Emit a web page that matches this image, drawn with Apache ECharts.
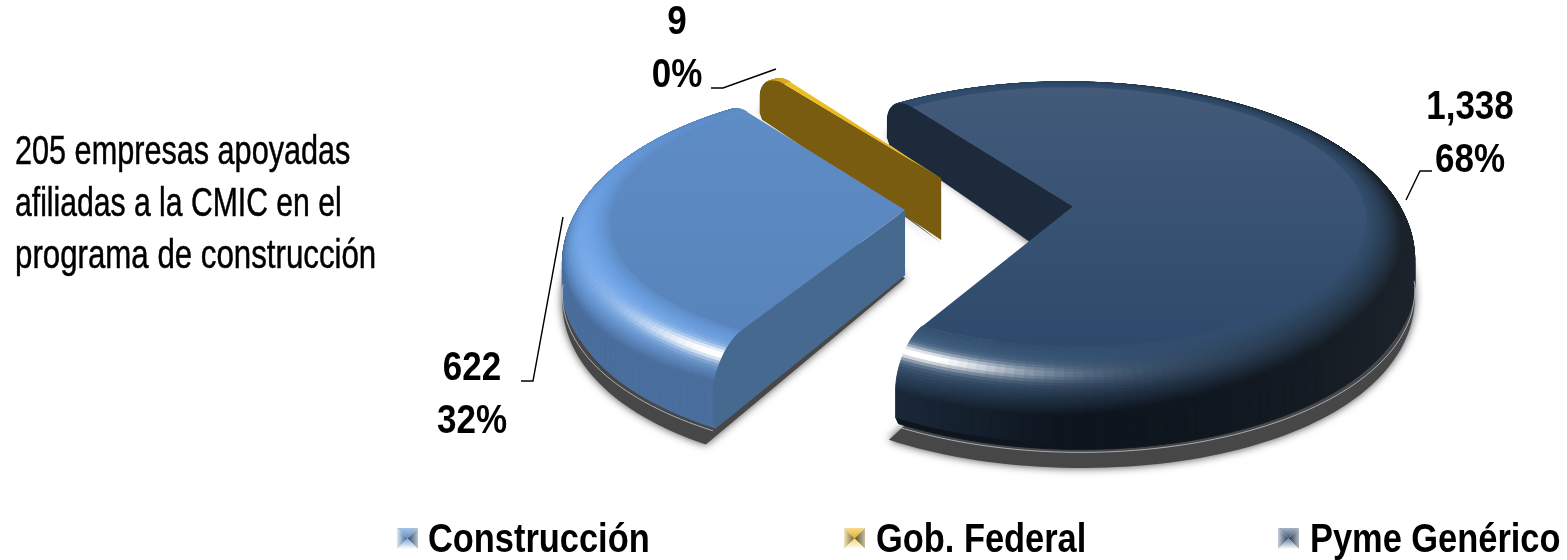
<!DOCTYPE html>
<html><head><meta charset="utf-8">
<style>html,body{margin:0;padding:0;background:#fff}#c{width:1567px;height:560px}</style>
<script src="https://cdn.jsdelivr.net/npm/echarts@6/dist/echarts.min.js"></script>
</head><body><div id="c"></div>
<script>
// ---- data ----
const categories = ['Construcción', 'Gob. Federal', 'Pyme Genérico'];
const values = [622, 9, 1338];
const noteLines = ['205 empresas apoyadas', 'afiliadas a la CMIC en el', 'programa de construcción'];

// ---- style ----
const FONT = '"Liberation Sans", Arial, sans-serif';
const palette = [
  {top:['#5e8cc4','#5884bb'], base:[92,138,196], wall:'#46698f', minD:0.8},
  {top:['#f0c020','#e0b010'], base:[214,168,30], wall:'#7a5c10', minD:0.5},
  {top:['#435a7a','#2d4a6c'], base:[50,78,110], wall:'#1c2a3b', minD:0.27}
];
const zOrder = [4, 3, 2];
const labelPos = [{x:472,y:395.5,line:[[521,381],[533,381],[563,217]]},
                  {x:677,y:49,line:[[711,88],[723,88],[776,69]]},
                  {x:1470,y:134.5,line:[[1432,171],[1420,171],[1406,200]]}];
const noteScale = [0.747, 0.735, 0.762];
const legendX = [397, 844, 1278];
const legendTextX = [428, 876, 1310];
const iconStyle = [
  {t:['#a9c4e4','#5f8fc8'], l:['#dce8f4','#3f6290'], r:['#2f4660','#b8c4d0'], b:['#7fa5d4','#ffffff']},
  {t:['#f6dc90','#e8b010'], l:['#f2e8c0','#7a6020'], r:['#5a4c20','#c8c0a0'], b:['#f4d470','#ffffff']},
  {t:['#a8b4c4','#3a587c'], l:['#c8d0da','#2a3c54'], r:['#22324a','#b0b8c4'], b:['#6a84a0','#ffffff']}
];

// ---- 3D projection of the exploded pie ----
const CX = 989, CY = 208, A = 340, B = 150, K = 0.0915, EXPLODE = 0.247, T = 65, START = 120;
const RINNER = 0.86, DROP = 0.55;
const total = values.reduce((a, b) => a + b, 0);
const rad = d => d * Math.PI / 180;

function sliceAngles(i) {
  let a = START;
  for (let j = 0; j < i; j++) a += values[j] / total * 360;
  return [a, a + values[i] / total * 360];
}
// profile of the rim: r, fraction of thickness, tilt of the surface
const profile = [];
const ARC = 26;
for (let i = 0; i <= ARC; i++) {
  const al = i / ARC * Math.PI / 2;
  profile.push([RINNER + (1 - RINNER) * Math.sin(al), DROP * (1 - Math.cos(al)), al]);
}
for (let i = 1; i <= 3; i++) profile.push([1, DROP + (1 - DROP) * (i / 4), Math.PI / 2]);
profile.push([0.985, 1, Math.PI * 0.65]);

function proj(ex, ey, r, th, f) {
  const u = ex + r * Math.cos(th), v = ey + r * Math.sin(th);
  const s = 1 / (1 - K * v);
  return [CX + A * u * s, CY + B * v * s + f * T * (1 + 0.25 * v)];
}
function shade(pal, th, al) {
  const c = pal.base;
  const n = [Math.cos(th) * Math.sin(al), Math.sin(th) * Math.sin(al), Math.cos(al)];
  const L = [-0.5, 0.2, 0.84];
  let d = (n[0] * L[0] + n[1] * L[1] + n[2] * L[2]) / L[2];
  d = Math.max(pal.minD, d);
  let deg = (th * 180 / Math.PI) % 360; if (deg < 0) deg += 360;
  const dt = (deg - 119) / 20, da = (al - 0.72) / 0.15;
  const spec = Math.exp(-dt * dt) * Math.exp(-da * da);
  const dt2 = (deg - 125) / 45;
  const soft = 0.16 * Math.exp(-dt2 * dt2) * Math.exp(-da * da * 0.25);
  const w = Math.min(1, spec * 0.95 + soft);
  const right = Math.pow(Math.max(0, Math.cos(th)), 2) * 0.13 * Math.sin(al);
  const col = c.map(x => {
    const m = Math.min(255, x * d) * (1 - w) + 255 * w;
    return Math.round(m * (1 - right) + 150 * right);
  });
  return 'rgb(' + col.join(',') + ')';
}
function makeRender(idx) {
  return function (params, api) {
    const children = [];
    const val = api.value(0);
    const [a0deg] = sliceAngles(idx);
    const sweep = val / total * 360;
    const a0 = rad(a0deg), a1 = rad(a0deg + sweep), mid = (a0 + a1) / 2;
    const ex = EXPLODE * Math.cos(mid), ey = EXPLODE * Math.sin(mid);
    const pal = palette[idx];
    const steps = Math.max(2, Math.ceil(sweep / 1.6));
    const ang = [];
    for (let i = 0; i <= steps; i++) ang.push(a0 + (a1 - a0) * i / steps);
    const apexB = proj(ex, ey, 0, 0, 1);

    // soft shadow
    const sh = [[apexB[0], apexB[1] + 3]];
    ang.forEach(th => {
      const p = proj(ex, ey, 1, th, 1);
      const sn = Math.max(0, Math.sin(th));
      sh.push([p[0] + (p[0] - apexB[0]) * 0.05 * sn * sn, p[1] + (p[1] - apexB[1]) * 0.075 + 2]);
    });
    children.push({type:'polygon', shape:{points:sh}, style:{fill:'#474747', shadowBlur:8, shadowColor:'#474747'}, silent:true});

    // rim, painted from the bottom edge up
    for (let j = profile.length - 1; j > 0; j--) {
      const p0 = profile[j], p1 = profile[j - 1];
      for (let i = 0; i < steps; i++) {
        const th0 = ang[i], th1 = ang[i + 1], thm = (th0 + th1) / 2;
        const col = shade(pal, thm, (p0[2] + p1[2]) / 2);
        children.push({type:'polygon', silent:true,
          shape:{points:[proj(ex,ey,p0[0],th0,p0[1]), proj(ex,ey,p0[0],th1,p0[1]),
                         proj(ex,ey,p1[0],th1,p1[1]), proj(ex,ey,p1[0],th0,p1[1])]},
          style:{fill:col, stroke:col, lineWidth:0.9}});
      }
    }
    // bright thread on the lower edge
    const edge = ang.filter(th => Math.sin(th) > 0.05).map(th => proj(ex, ey, 1, th, 1));
    if (edge.length > 1) children.push({type:'polyline', silent:true, shape:{points:edge},
      style:{fill:null, stroke:'rgba(205,215,225,0.7)', lineWidth:1}});

    // cut face that looks at the viewer
    const wall = [proj(ex, ey, 0, a0, 0)];
    profile.forEach(p => wall.push(proj(ex, ey, p[0], a0, p[1])));
    wall.push(proj(ex, ey, 0, a0, 1));
    children.push({type:'polygon', silent:true, shape:{points:wall}, style:{fill:pal.wall}});

    // flat top
    const top = [proj(ex, ey, 0, 0, 0)];
    ang.forEach(th => top.push(proj(ex, ey, RINNER, th, 0)));
    children.push({type:'polygon', silent:true, shape:{points:top},
      style:{fill:new echarts.graphic.LinearGradient(0,0,0,1,[{offset:0,color:pal.top[0]},{offset:1,color:pal.top[1]}])}});

    // label + leader
    const lp = labelPos[idx];
    const pct = Math.round(val / total * 100) + '%';
    children.push({type:'polyline', silent:true, shape:{points:lp.line}, style:{fill:null, stroke:'#000', lineWidth:1.4}});
    children.push({type:'text', silent:true, x:lp.x, y:lp.y, scaleX:0.875, style:{x:0, y:0, text:val.toLocaleString('en-US') + '\n' + pct,
      font:'bold 40px ' + FONT, fill:'#000', align:'center', verticalAlign:'middle', lineHeight:53}});
    return {type:'group', children};
  };
}

const series = categories.map((name, i) => ({
  type:'custom', name, coordinateSystem:'none', z:zOrder[i], silent:true,
  data:[[values[i]]], renderItem:makeRender(i),
  itemStyle:{color:'rgb(' + palette[i].base.join(',') + ')'}
}));

function grad(x0,y0,x1,y1,c){return new echarts.graphic.LinearGradient(x0,y0,x1,y1,[{offset:0,color:c[0]},{offset:1,color:c[1]}]);}
const graphics = [];
legendX.forEach((x, i) => {
  const s = iconStyle[i], w = 21, y = 528, cx = x + w / 2, cy = y + w / 2;
  graphics.push({type:'polygon', silent:true, shape:{points:[[x,y],[x+w,y],[cx,cy]]}, style:{fill:grad(0,0,0,1,s.t)}, z:20});
  graphics.push({type:'polygon', silent:true, shape:{points:[[x,y],[x,y+w],[cx,cy]]}, style:{fill:grad(0,0,1,0,s.l)}, z:20});
  graphics.push({type:'polygon', silent:true, shape:{points:[[x+w,y],[x+w,y+w],[cx,cy]]}, style:{fill:grad(0,0,1,0,s.r)}, z:20});
  graphics.push({type:'polygon', silent:true, shape:{points:[[x,y+w],[x+w,y+w],[cx,cy]]}, style:{fill:grad(0,0,0,1,s.b)}, z:20});
  graphics.push({type:'text', silent:true, x:legendTextX[i], y:541, scaleX:0.86,
    style:{text:categories[i], font:'bold 40px ' + FONT, fill:'#000', align:'left', verticalAlign:'middle'}, z:20});
});
noteLines.forEach((t, i) => {
  graphics.push({type:'text', silent:true, x:15, y:153 + i * 52, scaleX:noteScale[i],
    style:{text:t, font:'41px ' + FONT, fill:'#000', stroke:'#000', lineWidth:0.5, verticalAlign:'middle', align:'left'}});
});

const chart = echarts.init(document.getElementById('c'), null, {renderer:'canvas'});
chart.setOption({ animation:false, backgroundColor:'#fff', graphic:graphics, series });
</script></body></html>
